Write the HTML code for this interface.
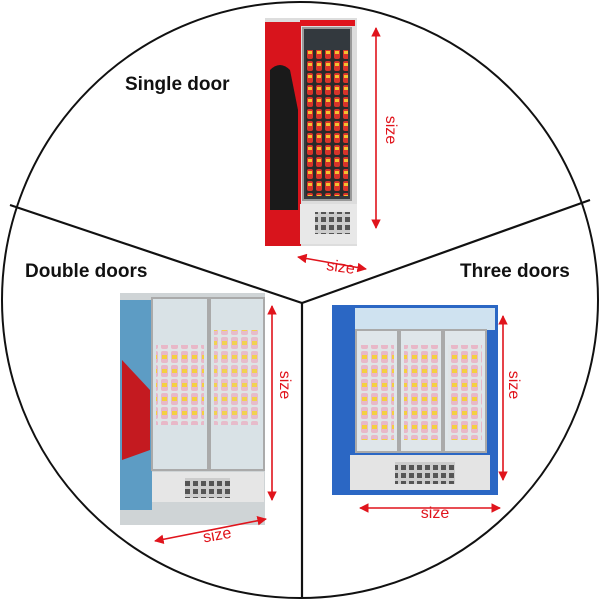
<!DOCTYPE html>
<html><head><meta charset="utf-8"><style>
html,body{margin:0;padding:0;background:#fff}
svg{display:block}
text{font-family:"Liberation Sans",sans-serif}
</style></head><body>
<svg width="600" height="600" viewBox="0 0 600 600" xmlns="http://www.w3.org/2000/svg">
<defs>
<marker id="a" viewBox="0 0 10 10" refX="9" refY="5" markerWidth="6" markerHeight="6" orient="auto-start-reverse"><path d="M0,0L10,5L0,10z" fill="#e0141c"/></marker>
<pattern id="bot" width="9" height="12" patternUnits="userSpaceOnUse"><rect width="9" height="12" fill="#2a2a2a"/><rect x="1" y="1" width="6" height="10" rx="2" fill="#d8342a"/><rect x="2" y="3" width="4" height="3" fill="#f2c230"/></pattern>
<pattern id="bot2" width="10" height="14" patternUnits="userSpaceOnUse"><rect width="10" height="14" fill="#dfe4e6"/><rect x="1" y="1" width="7" height="12" rx="2" fill="#e8b8c8"/><rect x="2" y="5" width="5" height="4" fill="#f4d040"/></pattern>
<pattern id="vent" width="8" height="8" patternUnits="userSpaceOnUse"><rect width="8" height="8" fill="#ccc"/><rect x="1" y="1" width="5" height="5" fill="#555"/></pattern>
</defs>
<circle cx="300" cy="300" r="298" fill="#fff" stroke="#111" stroke-width="2"/>
<polyline points="10,205 302,303 590,200" fill="none" stroke="#111" stroke-width="2.2"/>
<line x1="302" y1="303" x2="302" y2="598" stroke="#111" stroke-width="2.2"/>

<!-- single door -->
<rect x="265" y="18" width="92" height="228" fill="#ddd"/>
<rect x="265" y="22" width="36" height="224" fill="#d8141c"/>
<path d="M270,70 q10,-10 20,0 l8,40 l0,100 l-28,0 z" fill="#1a1a1a"/>
<rect x="300" y="20" width="55" height="6" fill="#e0141c"/>
<rect x="303" y="28" width="48" height="172" fill="#33393e" stroke="#999" stroke-width="2"/>
<rect x="306" y="50" width="42" height="146" fill="url(#bot)"/>
<rect x="300" y="204" width="57" height="40" fill="#e8e8e8"/>
<rect x="315" y="212" width="35" height="22" fill="url(#vent)"/>

<!-- double doors -->
<rect x="120" y="293" width="145" height="232" fill="#cfd4d6"/>
<rect x="120" y="300" width="32" height="210" fill="#5d9cc4"/>
<path d="M122,360 l28,30 l0,60 l-28,10 z" fill="#c41a20"/>
<rect x="152" y="298" width="56" height="172" fill="#d9e2e6" stroke="#aaa" stroke-width="2"/>
<rect x="210" y="298" width="54" height="172" fill="#d9e2e6" stroke="#aaa" stroke-width="2"/>
<rect x="156" y="345" width="48" height="80" fill="url(#bot2)"/>
<rect x="214" y="330" width="46" height="95" fill="url(#bot2)" opacity=".9"/>
<rect x="152" y="472" width="112" height="30" fill="#e6e6e6"/>
<rect x="185" y="478" width="45" height="20" fill="url(#vent)"/>

<!-- three doors -->
<rect x="332" y="305" width="166" height="190" fill="#2b67c4"/>
<rect x="355" y="308" width="140" height="22" fill="#cfe2f0"/>
<rect x="356" y="330" width="42" height="122" fill="#dfe6ea" stroke="#aaa" stroke-width="2"/>
<rect x="400" y="330" width="42" height="122" fill="#dfe6ea" stroke="#aaa" stroke-width="2"/>
<rect x="444" y="330" width="42" height="122" fill="#dfe6ea" stroke="#aaa" stroke-width="2"/>
<rect x="360" y="345" width="34" height="95" fill="url(#bot2)"/>
<rect x="404" y="345" width="34" height="95" fill="url(#bot2)"/>
<rect x="448" y="345" width="34" height="95" fill="url(#bot2)"/>
<rect x="350" y="455" width="140" height="35" fill="#e4e4e4"/>
<rect x="395" y="462" width="60" height="22" fill="url(#vent)"/>

<!-- arrows -->
<g stroke="#e0141c" stroke-width="1.6" fill="none">
<line x1="376" y1="28" x2="376" y2="228" marker-start="url(#a)" marker-end="url(#a)"/>
<line x1="298" y1="257" x2="366" y2="269" marker-start="url(#a)" marker-end="url(#a)"/>
<line x1="272" y1="306" x2="272" y2="500" marker-start="url(#a)" marker-end="url(#a)"/>
<line x1="155" y1="541" x2="266" y2="519" marker-start="url(#a)" marker-end="url(#a)"/>
<line x1="503" y1="316" x2="503" y2="480" marker-start="url(#a)" marker-end="url(#a)"/>
<line x1="360" y1="508" x2="500" y2="508" marker-start="url(#a)" marker-end="url(#a)"/>
</g>
<g fill="#e0141c" font-size="16">
<text x="386" y="130" transform="rotate(90 386 130)" text-anchor="middle">size</text>
<text x="340" y="272" text-anchor="middle" transform="rotate(8 340 272)">size</text>
<text x="280" y="385" transform="rotate(90 280 385)" text-anchor="middle">size</text>
<text x="218" y="540" text-anchor="middle" transform="rotate(-10 218 540)">size</text>
<text x="509" y="385" transform="rotate(90 509 385)" text-anchor="middle">size</text>
<text x="435" y="518" text-anchor="middle">size</text>
</g>
<g font-size="19" font-weight="bold" fill="#111">
<text x="125" y="90">Single door</text>
<text x="25" y="277">Double doors</text>
<text x="460" y="277">Three doors</text>
</g>
</svg>
</body></html>
